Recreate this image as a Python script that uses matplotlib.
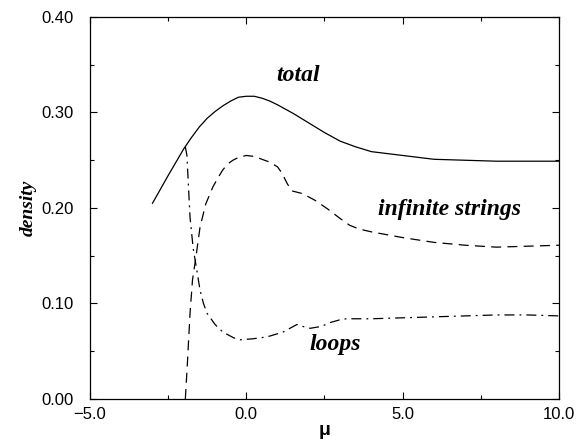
import matplotlib
matplotlib.use("Agg")
import matplotlib.pyplot as plt
from matplotlib.ticker import MultipleLocator, FuncFormatter

# density curves vs chemical potential mu
mu_total = [-3.0, -2.5, -2.0, -1.75, -1.5, -1.25, -1.0, -0.75, -0.5, -0.25, 0.0,
            0.25, 0.5, 0.75, 1.0, 1.5, 2.0, 2.5, 3.0, 3.5, 4.0, 5.0, 6.0, 7.0,
            8.0, 9.0, 10.0]
total = [0.205, 0.234, 0.262, 0.274, 0.285, 0.294, 0.301, 0.307, 0.312, 0.316, 0.317,
         0.317, 0.315, 0.312, 0.308, 0.299, 0.289, 0.279, 0.270, 0.264, 0.259, 0.255,
         0.251, 0.250, 0.249, 0.249, 0.249]

mu_inf = [-1.95, -1.88, -1.8, -1.72, -1.61, -1.48, -1.3, -1.07, -0.9, -0.75, -0.6,
          -0.43, -0.25, 0.0, 0.25, 0.5, 0.75, 1.0, 1.15, 1.3, 1.45, 1.8, 2.2, 2.6,
          3.0, 3.3, 3.6, 4.0, 5.0, 6.0, 7.0, 8.0, 9.0, 10.0]
infinite = [0.0, 0.04, 0.09, 0.125, 0.149, 0.180, 0.204, 0.222, 0.232, 0.240, 0.246,
            0.250, 0.253, 0.255, 0.254, 0.251, 0.248, 0.243, 0.236, 0.226, 0.218,
            0.215, 0.208, 0.199, 0.189, 0.182, 0.178, 0.175, 0.169, 0.164, 0.161,
            0.159, 0.160, 0.161]

mu_loops = [-1.95, -1.9, -1.8, -1.7, -1.61, -1.48, -1.37, -1.26, -1.0, -0.75, -0.4,
            -0.2, 0.2, 0.66, 1.17, 1.45, 1.62, 1.8, 2.04, 2.4, 2.68, 3.0, 3.2, 4.0,
            5.0, 6.0, 7.0, 8.0, 9.0, 10.0]
loops = [0.264, 0.255, 0.19, 0.158, 0.140, 0.114, 0.100, 0.090, 0.078, 0.070, 0.064,
         0.062, 0.063, 0.065, 0.070, 0.075, 0.078, 0.076, 0.074, 0.076, 0.080, 0.083,
         0.084, 0.084, 0.085, 0.086, 0.087, 0.088, 0.088, 0.087]

plt.rcParams['font.family'] = ['Liberation Sans', 'DejaVu Sans']

fig = plt.figure(figsize=(5.85, 4.44), dpi=100)
ax = fig.add_axes([0.1538, 0.1014, 0.8018, 0.8603])

lw = 0.9
ax.plot(mu_total, total, color='black', lw=lw, ls='-')
ax.plot(mu_inf, infinite, color='black', lw=lw, ls=(0, (8, 5)))
ax.plot(mu_loops, loops, color='black', lw=lw, ls=(0, (8, 4, 1.5, 4)))

serif_bi = dict(family=['Liberation Serif', 'DejaVu Serif'], style='italic', weight='bold')
ax.text(1.65, 0.339, 'total', ha='center', va='center', fontsize=17, **serif_bi)
ax.text(6.5, 0.198, 'infinite strings', ha='center', va='center', fontsize=17, **serif_bi)
ax.text(2.84, 0.057, 'loops', ha='center', va='center', fontsize=17, **serif_bi)

ax.set_xlim(-5, 10)
ax.set_ylim(0, 0.4)
ax.xaxis.set_major_locator(MultipleLocator(5))
ax.xaxis.set_minor_locator(MultipleLocator(2.5))
ax.yaxis.set_major_locator(MultipleLocator(0.1))
ax.yaxis.set_minor_locator(MultipleLocator(0.05))
ax.xaxis.set_major_formatter(FuncFormatter(lambda v, p: f'{v:.1f}'.replace('-', '\u2212')))
ax.yaxis.set_major_formatter(FuncFormatter(lambda v, p: f'{v:.2f}'))
ax.tick_params(which='both', direction='in', top=True, right=True, labelsize=12, width=0.8)
ax.tick_params(which='major', length=5)
ax.tick_params(which='minor', length=3)
ax.tick_params(axis='y', which='major', pad=12)
ax.tick_params(axis='x', which='major', pad=6)
for s in ax.spines.values():
    s.set_linewidth(0.9)

ax.set_ylabel('density', fontsize=14, labelpad=3, **serif_bi)
ax.set_xlabel('μ', fontsize=14, labelpad=0, weight='bold')

fig.savefig('out.png', dpi=100)
